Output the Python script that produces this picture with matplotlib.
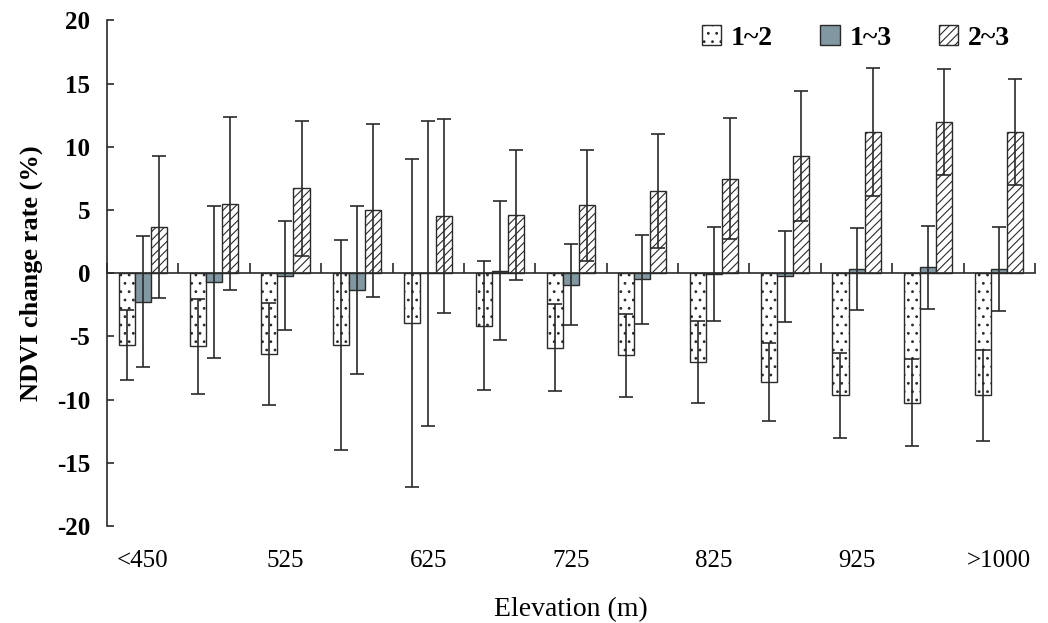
import numpy as np
import matplotlib
matplotlib.use('Agg')
import matplotlib.pyplot as plt

# elevation classes (only every other one is labelled on the axis)
elevations = ['<450', '475', '525', '575', '625', '675', '725', '775',
              '825', '875', '925', '975', '>1000']

# NDVI change rate (%) and error bar half-lengths
rate_12 = [-5.67, -5.8, -6.4, -5.67, -3.95, -4.15, -5.9, -6.5, -7.0, -8.6, -9.65, -10.25, -9.65]
err_12 = [2.75, 3.75, 4.0, 8.3, 12.95, 5.1, 3.45, 3.3, 3.25, 3.1, 3.35, 3.45, 3.6]

rate_13 = [-2.25, -0.7, -0.2, -1.3, 0.0, 0.2, -0.9, -0.5, -0.08, -0.25, 0.3, 0.45, 0.32]
err_13 = [5.2, 6.05, 4.3, 6.65, 12.07, 5.48, 3.2, 3.5, 3.7, 3.6, 3.25, 3.3, 3.34]

rate_23 = [3.64, 5.5, 6.7, 4.97, 4.5, 4.58, 5.36, 6.5, 7.48, 9.27, 11.15, 11.97, 11.15]
err_23 = [5.6, 6.87, 5.35, 6.85, 7.68, 5.13, 4.4, 4.5, 4.8, 5.15, 5.05, 4.2, 4.2]

plt.rcParams['font.family'] = ['Liberation Serif', 'DejaVu Serif']
plt.rcParams['hatch.linewidth'] = 0.8
plt.rcParams['axes.unicode_minus'] = False

fig = plt.figure(figsize=(10.48, 6.23), dpi=100)
ax = fig.add_axes([0.1021, 0.1557, 0.8855, 0.8117])

x = np.arange(len(elevations)) + 0.5
w = 0.225
ink = '#2a2a2a'

ax.bar(x - w, rate_12, w, color='white', edgecolor=ink, linewidth=1, hatch='..', label='1~2')
ax.bar(x, rate_13, w, color='#8198a2', edgecolor=ink, linewidth=1, label='1~3')
ax.bar(x + w, rate_23, w, color='white', edgecolor=ink, linewidth=1, hatch='////', label='2~3')

for off, vals, errs in [(-w, rate_12, err_12), (0, rate_13, err_13), (w, rate_23, err_23)]:
    ax.errorbar(x + off, vals, yerr=errs, fmt='none', ecolor=ink,
                elinewidth=1.2, capsize=5, capthick=1.2)

ax.set_xlim(0, len(elevations))
ax.set_ylim(-20, 20)
ax.set_yticks(np.arange(-20, 21, 5))
ax.tick_params(axis='y', direction='in', length=5, width=1.2, color=ink, pad=12)
for t in ax.get_yticklabels():
    t.set_fontsize(18)
    t.set_fontweight('bold')
ax.set_ylabel('NDVI change rate (%)', fontsize=19, fontweight='bold', labelpad=10)

# zero line with tick marks between groups
ax.spines['bottom'].set_position(('data', 0))
ax.spines['bottom'].set_color(ink)
ax.spines['bottom'].set_linewidth(1.2)
ax.spines['left'].set_color(ink)
ax.spines['left'].set_linewidth(1.2)
ax.spines['top'].set_visible(False)
ax.spines['right'].set_visible(False)
ax.set_xticks(np.arange(len(elevations) + 1))
ax.set_xticklabels([])
ax.tick_params(axis='x', direction='in', length=7, width=1.2, color=ink)

# category labels along the bottom
sec = ax.secondary_xaxis('bottom')
sec.spines['bottom'].set_visible(False)
sec.set_xticks(x[::2])
sec.set_xticklabels(elevations[::2], fontsize=18)
sec.tick_params(axis='x', length=0, pad=17)
sec.set_xlabel('Elevation (m)', fontsize=20, labelpad=18)

ax.legend(loc='upper right', bbox_to_anchor=(1.0, 1.04), ncol=3, frameon=False,
          prop={'size': 20, 'weight': 'bold'}, columnspacing=1.7,
          handlelength=0.7, handleheight=0.7, handletextpad=0.35)

fig.savefig('out.png', dpi=100)
